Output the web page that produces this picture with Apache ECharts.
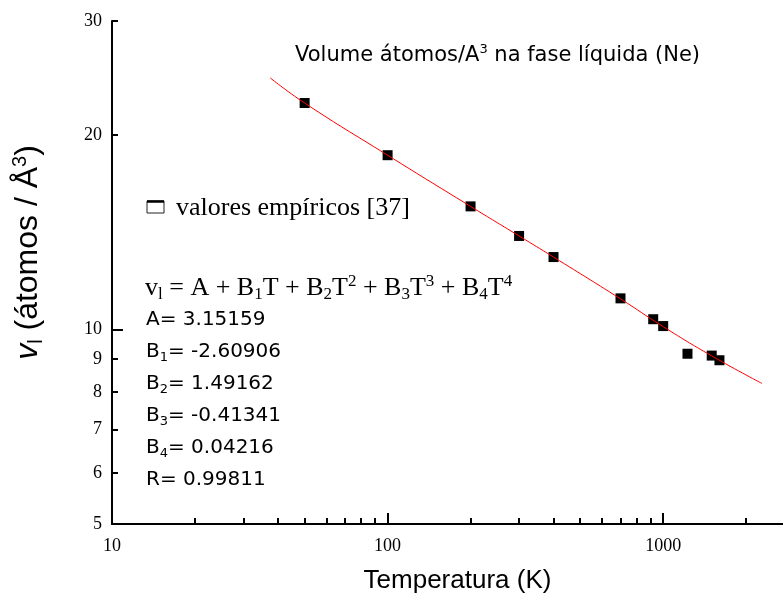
<!DOCTYPE html>
<html>
<head>
<meta charset="utf-8">
<title>Volume átomos na fase líquida (Ne)</title>
<script src="https://cdn.jsdelivr.net/npm/echarts@6/dist/echarts.min.js"></script>
<style>
  html, body { margin: 0; padding: 0; background: #fff; }
  #chart { width: 783px; height: 594px; }
</style>
</head>
<body>
<div id="chart"></div>
<script>
// valores empíricos [37]
const tempK = [50, 100, 200, 300, 400, 700, 920, 1000, 1225, 1500, 1600];
const volume = [22.4, 18.6, 15.5, 13.95, 12.94, 11.17, 10.37, 10.12, 9.17, 9.11, 8.96];

// curva ajustada
const fitT = [37.5, 50, 100, 200, 300, 400, 700, 1000, 1500, 2280];
const fitV = [24.5, 22.4, 18.6, 15.5, 13.95, 12.94, 11.15, 10.1, 9.1, 8.25];

// ticks
const xMajor = [10, 100, 1000];
const xMinor = [20, 30, 40, 50, 60, 70, 80, 90, 200, 300, 400, 500, 600, 700, 800, 900, 2000];
const yLabels = [5, 6, 7, 8, 9, 10, 20, 30];
const yMajor = [10];
const yMinor = [5, 6, 7, 8, 9, 20, 30];

const coefs = [
  'A= 3.15159',
  'B{sub|1}= -2.60906',
  'B{sub|2}= 1.49162',
  'B{sub|3}= -0.41341',
  'B{sub|4}= 0.04216',
  'R= 0.99811'
];

const serif = '"Liberation Serif", "Times New Roman", serif';
const sans = '"DejaVu Sans", sans-serif';
const arial = '"Liberation Sans", Arial, sans-serif';

let myChart = echarts.init(document.getElementById('chart'), null, {renderer: 'canvas'});

const lineBlack = {color: '#000', width: 2};

function pairs(xs, ys) {
  return xs.map((x, i) => [x, ys[i]]);
}

let graphics = [
  {
    type: 'text', x: 295, y: 56,
    style: {
      text: 'Volume átomos/A{sup|3} na fase líquida (Ne)',
      fontFamily: sans, fontSize: 21, fill: '#000',
      verticalAlign: 'middle', lineHeight: 26,
      rich: {sup: {fontFamily: sans, fontSize: 13, lineHeight: 12, verticalAlign: 'top'}}
    }
  },
  {
    type: 'rect', shape: {x: 147, y: 201, width: 17, height: 12},
    style: {fill: '#fff', stroke: '#222', lineWidth: 1}
  },
  {
    type: 'line', shape: {x1: 147, y1: 201.5, x2: 164, y2: 201.5},
    style: {stroke: '#000', lineWidth: 2.5}
  },
  {
    type: 'text', x: 176, y: 208,
    style: {
      text: 'valores empíricos [37]',
      fontFamily: serif, fontSize: 26, fill: '#000', verticalAlign: 'middle'
    }
  },
  {
    type: 'text', x: 145, y: 288,
    style: {
      text: 'v{sub|l} = A + B{sub|1}T + B{sub|2}T{sup|2} + B{sub|3}T{sup|3} + B{sub|4}T{sup|4}',
      fontFamily: serif, fontSize: 26, fill: '#000',
      verticalAlign: 'middle', lineHeight: 30,
      rich: {
        sub: {fontFamily: serif, fontSize: 17, lineHeight: 14, verticalAlign: 'bottom'},
        sup: {fontFamily: serif, fontSize: 17, lineHeight: 14, verticalAlign: 'top'}
      }
    }
  }
];

coefs.forEach((c, i) => {
  graphics.push({
    type: 'text', x: 146, y: 320 + i * 32,
    style: {
      text: c, fontFamily: sans, fontSize: 20, fill: '#000',
      verticalAlign: 'middle', lineHeight: 24,
      rich: {sub: {fontFamily: sans, fontSize: 13, lineHeight: 10, verticalAlign: 'bottom'}}
    }
  });
});

let option = {
  animation: false,
  backgroundColor: '#fff',
  grid: {left: 112, right: 0, top: 21, bottom: 70, containLabel: false, outerBoundsMode: 'none'},
  xAxis: [
    {
      type: 'log', logBase: 10, min: 10, max: 2721, position: 'bottom',
      name: 'Temperatura (K)', nameLocation: 'middle', nameGap: 44,
      nameTextStyle: {fontFamily: arial, fontSize: 26, color: '#000', padding: [0, 0, 0, 20]},
      axisLine: {show: true, onZero: false, lineStyle: lineBlack},
      axisTick: {show: true, inside: true, length: 11, lineStyle: lineBlack, customValues: xMajor},
      axisLabel: {
        customValues: xMajor, fontFamily: serif, fontSize: 18, color: '#000', margin: 13,
        formatter: v => String(v)
      },
      splitLine: {show: false}
    },
    {
      type: 'log', logBase: 10, min: 10, max: 2721, position: 'bottom',
      axisLine: {show: false},
      axisTick: {show: true, inside: true, length: 6, lineStyle: lineBlack, customValues: xMinor},
      axisLabel: {show: false},
      splitLine: {show: false}
    }
  ],
  yAxis: [
    {
      type: 'log', logBase: 10, min: 5, max: 30, position: 'left',
      name: '{it|v}{sub|l} (átomos / Å{sup|3})', nameLocation: 'middle', nameGap: 66, nameRotate: 90,
      nameTextStyle: {
        fontFamily: arial, fontSize: 32, color: '#000', lineHeight: 36,
        padding: [0, 0, 0, 40],
        rich: {
          it: {fontFamily: arial, fontSize: 32, fontStyle: 'italic', color: '#000'},
          sub: {fontFamily: arial, fontSize: 20, color: '#000', lineHeight: 14, verticalAlign: 'bottom'},
          sup: {fontFamily: arial, fontSize: 20, color: '#000', lineHeight: 14, verticalAlign: 'top'}
        }
      },
      axisLine: {show: true, onZero: false, lineStyle: lineBlack},
      axisTick: {show: true, inside: true, length: 11, lineStyle: lineBlack, customValues: yMajor},
      axisLabel: {customValues: yLabels, fontFamily: serif, fontSize: 18, color: '#000', margin: 10},
      splitLine: {show: false}
    },
    {
      type: 'log', logBase: 10, min: 5, max: 30, position: 'left',
      axisLine: {show: false},
      axisTick: {show: true, inside: true, length: 6, lineStyle: lineBlack, customValues: yMinor},
      axisLabel: {show: false},
      splitLine: {show: false}
    }
  ],
  series: [
    {
      type: 'line', name: 'ajuste',
      xAxisIndex: 0, yAxisIndex: 0,
      data: pairs(fitT, fitV),
      smooth: true, showSymbol: false,
      lineStyle: {color: '#ff0000', width: 1}
    },
    {
      type: 'scatter', name: 'valores empíricos',
      xAxisIndex: 0, yAxisIndex: 0,
      data: pairs(tempK, volume),
      symbol: 'rect', symbolSize: 10,
      itemStyle: {color: '#000', opacity: 1}
    }
  ],
  graphic: graphics
};

myChart.setOption(option);
window.onresize = function() {
  myChart.resize();
};
</script>
</body>
</html>
